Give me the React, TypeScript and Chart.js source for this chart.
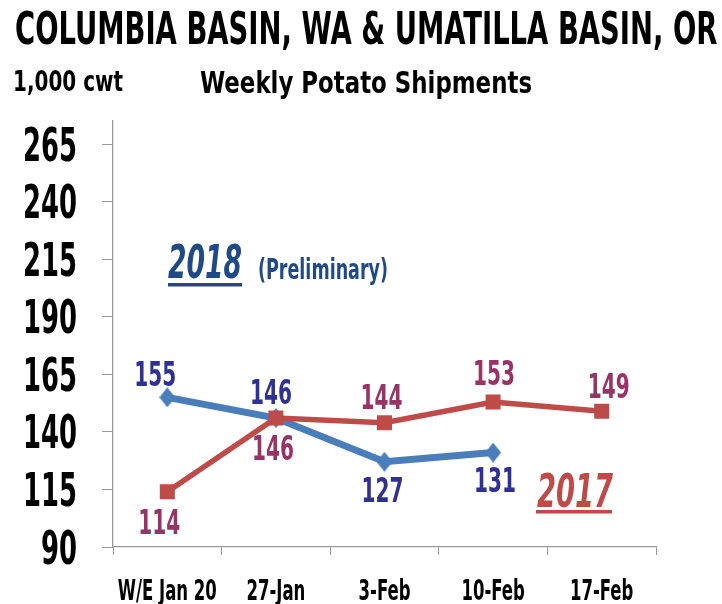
import React, { useEffect, useRef } from "react";
import { Chart, registerables } from "chart.js";

Chart.register(...registerables);

// ---- data ----
const categories = ["W/E Jan 20", "27-Jan", "3-Feb", "10-Feb", "17-Feb"];
const values2017 = [114, 146, 144, 153, 149];
const values2018 = [155, 146, 127, 131, null];
const yTickValues = [90, 115, 140, 165, 190, 215, 240, 265];
const yMin = 90;
const yMax = 275;

const titleText = "COLUMBIA BASIN, WA & UMATILLA BASIN, OR";
const subtitleText = "Weekly Potato Shipments";
const unitText = "1,000 cwt";

// label offsets relative to the point (dx, dy of text centre)
const labelOffsets2017 = [[-8, 30], [-3, 30], [-3, -25], [1, -29], [7, -25]];
const labelOffsets2018 = [[-12, -23], [-5, -26], [-2, 28], [2, 28]];

const FAMILY = "'Liberation Sans Narrow', 'DejaVu Sans Condensed', 'Liberation Sans', sans-serif";
const AXIS_COLOR = "#9a9a9a";
const BLUE = "#4A7EBB";
const RED = "#BE4B48";
const BLUE_LABEL = "#2E3192";
const RED_LABEL = "#993366";
const NOTE_BLUE = "#1F4A86";

function fontStr(size: number, italic = false) {
  return `${italic ? "italic " : ""}bold ${size}px ${FAMILY}`;
}

function fitK(ctx: CanvasRenderingContext2D, ref: string, size: number, width: number, italic = false) {
  ctx.save();
  ctx.font = fontStr(size, italic);
  const w = ctx.measureText(ref).width;
  ctx.restore();
  return width / w;
}

function drawText(
  ctx: CanvasRenderingContext2D,
  text: string,
  x: number,
  y: number,
  opts: { size: number; color?: string; italic?: boolean; align?: "left" | "center" | "right"; width?: number; k?: number }
) {
  const { size, color = "#000", italic = false, align = "left", width, k } = opts;
  ctx.save();
  ctx.font = fontStr(size, italic);
  ctx.fillStyle = color;
  ctx.textBaseline = "alphabetic";
  ctx.textAlign = "left";
  const w = ctx.measureText(text).width;
  const s = width ? width / w : k ?? 1;
  const dw = w * s;
  let left = x;
  if (align === "center") left = x - dw / 2;
  else if (align === "right") left = x - dw;
  ctx.translate(left, y);
  ctx.scale(s, 1);
  ctx.fillText(text, 0, 0);
  ctx.restore();
}

function makeDiamond(color: string) {
  const c = document.createElement("canvas");
  c.width = 16;
  c.height = 20;
  const g = c.getContext("2d")!;
  g.fillStyle = color;
  g.beginPath();
  g.moveTo(8, 0);
  g.lineTo(16, 10);
  g.lineTo(8, 20);
  g.lineTo(0, 10);
  g.closePath();
  g.fill();
  return c;
}

const decorPlugin = {
  id: "decor",
  afterDatasetsDraw(chart: any) {
    const ctx: CanvasRenderingContext2D = chart.ctx;
    // data labels
    const kLab = fitK(ctx, "155", 33, 42);
    const sets = [
      { idx: 0, vals: values2017, offs: labelOffsets2017, color: RED_LABEL },
      { idx: 1, vals: values2018, offs: labelOffsets2018, color: BLUE_LABEL },
    ];
    sets.forEach((s) => {
      const meta = chart.getDatasetMeta(s.idx);
      s.vals.forEach((v, i) => {
        if (v === null || v === undefined) return;
        const el = meta.data[i];
        const [dx, dy] = s.offs[i];
        drawText(ctx, String(v), el.x + dx, el.y + dy + 11.8, { size: 33, color: s.color, align: "center", k: kLab });
      });
    });
  },
  afterDraw(chart: any) {
    const ctx: CanvasRenderingContext2D = chart.ctx;
    const xs = chart.scales.x;
    const ys = chart.scales.y;

    // titles
    const kTitle = fitK(ctx, "COLUMBIA BASIN, WA & UMATILLA BASIN, ", 45, 658);
    drawText(ctx, titleText, 15, 44, { size: 45, k: kTitle });
    drawText(ctx, unitText, 13, 91, { size: 28, width: 110 });
    drawText(ctx, subtitleText, 200, 93, { size: 31, width: 332 });

    // y tick labels
    const kY = fitK(ctx, "265", 46, 54);
    ys.ticks.forEach((t: any) => {
      const y = ys.getPixelForValue(t.value);
      drawText(ctx, String(t.value), 77, y + 16.5, { size: 46, align: "right", k: kY });
    });

    // x tick labels
    const kX = fitK(ctx, "W/E Jan 20", 29, 99);
    categories.forEach((c, i) => {
      const x = xs.getPixelForValue(i);
      drawText(ctx, c, x, 600, { size: 29, align: "center", k: kX });
    });

    // annotations
    drawText(ctx, "2018", 168, 278, { size: 46, italic: true, color: NOTE_BLUE, width: 74 });
    ctx.fillStyle = NOTE_BLUE;
    ctx.fillRect(168, 283, 74, 3.5);
    drawText(ctx, "(Preliminary)", 258, 279, { size: 28, color: NOTE_BLUE, width: 130 });
    drawText(ctx, "2017", 537, 507, { size: 47, italic: true, color: RED, width: 76 });
    ctx.fillStyle = RED;
    ctx.fillRect(536, 510, 76, 3.5);
  },
};

export default function App() {
  const ref = useRef<HTMLCanvasElement | null>(null);

  useEffect(() => {
    document.body.style.margin = "0";
    const canvas = ref.current!;
    const chart = new Chart(canvas, {
      type: "line",
      data: {
        labels: categories,
        datasets: [
          {
            label: "2017",
            data: values2017,
            borderColor: RED,
            backgroundColor: RED,
            borderWidth: 5.5,
            pointStyle: "rect",
            pointRadius: 10.6,
            pointHoverRadius: 10.6,
            pointBorderWidth: 0,
            tension: 0,
          },
          {
            label: "2018",
            data: values2018,
            borderColor: BLUE,
            backgroundColor: BLUE,
            borderWidth: 7,
            pointStyle: makeDiamond(BLUE) as any,
            pointRadius: 10,
            pointBorderWidth: 0,
            tension: 0,
            spanGaps: false,
          },
        ],
      },
      options: {
        responsive: false,
        animation: false,
        devicePixelRatio: 1,
        layout: { padding: { top: 121, right: 66, left: 0, bottom: 0 } },
        plugins: {
          legend: { display: false },
          title: { display: false },
          tooltip: { enabled: false },
        },
        scales: {
          x: {
            type: "category",
            offset: true,
            grid: {
              offset: true,
              drawOnChartArea: false,
              drawTicks: true,
              tickLength: 8,
              color: AXIS_COLOR,
            },
            border: { display: true, color: AXIS_COLOR, width: 1.3 },
            ticks: { display: false },
            afterFit: (scale: any) => {
              scale.height = 57;
            },
          },
          y: {
            type: "linear",
            min: yMin,
            max: yMax,
            afterBuildTicks: (scale: any) => {
              scale.ticks = yTickValues.map((v) => ({ value: v }));
            },
            grid: {
              drawOnChartArea: false,
              drawTicks: true,
              tickLength: 11,
              color: AXIS_COLOR,
            },
            border: { display: true, color: AXIS_COLOR, width: 1.3 },
            ticks: { display: false },
            afterFit: (scale: any) => {
              scale.width = 113;
            },
          },
        },
      },
      plugins: [decorPlugin],
    });
    return () => chart.destroy();
  }, []);

  return (
    <div style={{ width: 722, height: 604, background: "#fff" }}>
      <canvas ref={ref} width={722} height={604} style={{ display: "block", width: 722, height: 604 }} />
    </div>
  );
}
